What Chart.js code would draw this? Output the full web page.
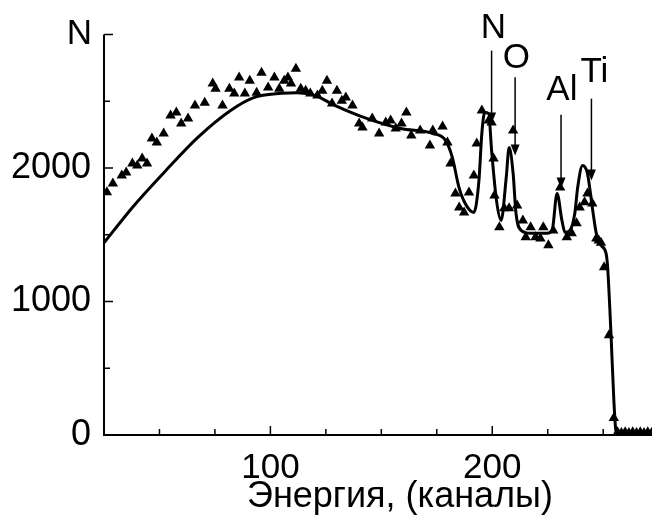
<!DOCTYPE html>
<html>
<head>
<meta charset="utf-8">
<script src="https://cdn.jsdelivr.net/npm/chart.js@4/dist/chart.umd.min.js"></script>
<style>
  html, body { margin: 0; padding: 0; background: #fff; }
  #wrap { width: 664px; height: 515px; }
</style>
</head>
<body>
<div id="wrap"><canvas id="chart"></canvas></div>
<script>
// measured spectrum (triangles): channel / counts
const measuredX = [26.3, 29, 33, 35, 37.8, 40, 42.2, 44.4, 46.6, 48.8, 51.9, 55, 57.6, 59.8, 62.9, 66, 70.4, 74, 75.3, 78.4,
  81.5, 83.7, 85.9, 88.5, 90.7, 93.8, 96, 99, 101.8, 104, 106.2, 107.9, 109.3, 111.5, 113.7, 115.9, 118, 121.2, 123.4, 125.5,
  127.8, 130, 132.2, 134, 137, 140, 141.5, 145.9, 149, 152, 154.2, 156.5, 159.1, 161.3, 163.5, 167.5, 171.9, 173.2, 177.6, 179.8,
  181.2, 183.4, 185.1, 187.3, 189.5, 191.7, 193, 195.3, 198.4, 199.7, 200.6, 201, 203.2, 205.4, 207.6, 209.4, 211.2, 213.8, 215.1, 217.3,
  219.5, 221.7, 223, 225.3, 227.5, 230.6, 233.6, 235.8, 238, 239.4, 241.6, 242.9, 245.1, 246.9, 248, 249, 250.4, 252.6, 254.8,
  256.5, 258.2, 259.9, 261.6, 263.3, 265, 266.7, 268.4, 270.1, 271.8];
const measuredY = [1818, 1885, 1945, 1967, 2034, 2020, 2072, 2034, 2221, 2191, 2259, 2393, 2416, 2334, 2371, 2468, 2490, 2633, 2595, 2468,
  2595, 2558, 2678, 2558, 2655, 2565, 2715, 2603, 2678, 2595, 2655, 2678, 2633, 2745, 2595, 2580, 2558, 2543, 2580, 2655,
  2483, 2580, 2505, 2528, 2468, 2334, 2304, 2371, 2259, 2341, 2356, 2296, 2334, 2416, 2244, 2281, 2169, 2281, 2311, 2191,
  2034, 1810, 1705, 1668, 1817, 1945, 2184, 2431, 2356, 2341, 2072, 1795, 1556, 1698, 1698, 2281, 1720, 1608, 1481, 1556,
  1481, 1473, 1556, 1421, 1533, 1855, 1481, 1511, 1586, 1705, 1743, 1810, 1735, 1473, 1458, 1440, 1257, 748, 127,
  20, 15, 20, 15, 20, 15, 20, 15, 20, 15];

// simulated spectrum (solid line)
const fitX = [25, 37.8, 52.8, 67.3, 81.9, 92.5, 105, 112, 120, 129, 143.7, 158.7, 173.2, 179, 182, 185, 187.8, 191.7, 194, 195.3,
  196.6, 198.4, 199.7, 201.9, 204, 206.3, 207.6, 209.4, 210.7, 213, 217.3, 224.8, 227, 229.2, 231.4, 232.8, 235, 237.2, 238.5, 240.7,
  242.9, 245.1, 246.9, 249, 251.3, 252, 253.5, 254.8, 255.7, 257, 264, 272];
const fitY = [1440, 1705, 1980, 2230, 2430, 2528, 2560, 2565, 2545, 2470, 2370, 2296, 2259, 2206, 2080, 1855, 1735, 1668, 1907, 2259,
  2416, 2408, 2132, 1758, 1608, 1930, 2154, 1960, 1660, 1533, 1511, 1511, 1533, 1810, 1608, 1518, 1533, 1660, 1855, 2020,
  1960, 1705, 1511, 1421, 1361, 1257, 763, 262, 37, 0, 0, 0];

// element markers: label, channel, arrow top / tip (counts), label centre (channel, counts)
const peakLabels = ['N', 'O', 'Al', 'Ti'];
const peakX = [199.7, 210.3, 231, 244.7];
const arrowTop = [2880, 2680, 2400, 2520];
const arrowTip = [2334, 2094, 1847, 1907];
const labelX = [200.5, 210.9, 231.4, 246];
const labelY = [3050, 2820, 2580, 2715];

const xMin = 25, xMax = 272;
const yMin = 0, yMax = 3000;
const xMinorTicks = [50, 75, 100, 125, 150, 175, 200, 225, 250];
const xMajorTicks = [100, 200];
const yMinorTicks = [500, 1000, 1500, 2000, 2500, 3000];
const yMajorTicks = [1000, 2000, 3000];
const yLabels = [0, 1000, 2000];
const xTitle = 'Энергия, (каналы)';

const FONT = "'Liberation Sans', Arial, sans-serif";

const decor = {
  id: 'decor',
  afterDatasetsDraw(chart) {
    const ctx = chart.ctx;
    const x = chart.scales.x, y = chart.scales.y;
    const area = chart.chartArea;
    ctx.save();
    ctx.strokeStyle = '#000';
    ctx.fillStyle = '#000';
    // axes
    ctx.lineWidth = 2;
    ctx.beginPath();
    ctx.moveTo(area.left, y.getPixelForValue(yMax));
    ctx.lineTo(area.left, area.bottom);
    ctx.lineTo(area.right, area.bottom);
    ctx.stroke();
    // ticks pointing inward
    ctx.lineWidth = 1.5;
    ctx.beginPath();
    xMinorTicks.forEach(v => {
      const px = x.getPixelForValue(v);
      const len = xMajorTicks.includes(v) ? 9 : 6;
      ctx.moveTo(px, area.bottom);
      ctx.lineTo(px, area.bottom - len);
    });
    yMinorTicks.forEach(v => {
      const py = y.getPixelForValue(v);
      const len = yMajorTicks.includes(v) ? 9 : 6;
      ctx.moveTo(area.left, py);
      ctx.lineTo(area.left + len, py);
    });
    ctx.stroke();
    // axis name N
    ctx.font = '35px ' + FONT;
    ctx.textAlign = 'right';
    ctx.textBaseline = 'middle';
    ctx.fillText('N', area.left - 12, y.getPixelForValue(yMax));
    // element arrows
    ctx.lineWidth = 1.5;
    ctx.textAlign = 'center';
    peakLabels.forEach((lab, i) => {
      const px = x.getPixelForValue(peakX[i]);
      const top = y.getPixelForValue(arrowTop[i]);
      const tip = y.getPixelForValue(arrowTip[i]);
      ctx.beginPath();
      ctx.moveTo(px, top);
      ctx.lineTo(px, tip - 8);
      ctx.stroke();
      ctx.beginPath();
      ctx.moveTo(px - 4.5, tip - 11);
      ctx.lineTo(px + 4.5, tip - 11);
      ctx.lineTo(px, tip);
      ctx.closePath();
      ctx.fill();
      ctx.fillText(lab, x.getPixelForValue(labelX[i]), y.getPixelForValue(labelY[i]));
    });
    // x axis title
    ctx.font = '36px ' + FONT;
    ctx.textBaseline = 'alphabetic';
    ctx.fillText(xTitle, (area.left + area.right) / 2 + 22, 507);
    ctx.restore();
  }
};

const fitData = fitX.map((v, i) => ({ x: v, y: fitY[i] }));
const measData = measuredX.map((v, i) => ({ x: v, y: measuredY[i] }));

new Chart(document.getElementById('chart'), {
  type: 'scatter',
  data: {
    datasets: [
      {
        data: fitData,
        showLine: true,
        borderColor: '#000',
        borderWidth: 3,
        pointRadius: 0,
        cubicInterpolationMode: 'monotone'
      },
      {
        data: measData,
        showLine: false,
        pointStyle: 'triangle',
        pointRadius: 6,
        backgroundColor: '#000',
        borderColor: '#000',
        borderWidth: 0
      }
    ]
  },
  options: {
    responsive: true,
    maintainAspectRatio: false,
    animation: false,
    events: [],
    layout: { padding: { top: 34, right: 0, left: 0, bottom: 0 } },
    plugins: { legend: { display: false }, tooltip: { enabled: false } },
    scales: {
      x: {
        type: 'linear',
        min: xMin,
        max: xMax,
        grid: { display: false, drawTicks: false },
        border: { display: false },
        ticks: {
          stepSize: 25,
          autoSkip: false,
          maxRotation: 0,
          padding: 12,
          color: '#000',
          font: { size: 35, family: FONT },
          callback: v => (xMajorTicks.includes(v) ? String(v) : '')
        },
        afterFit: s => { s.height = 80; }
      },
      y: {
        type: 'linear',
        min: yMin,
        max: yMax,
        grid: { display: false, drawTicks: false },
        border: { display: false },
        ticks: {
          stepSize: 500,
          padding: 13,
          color: '#000',
          font: { size: 36, family: FONT },
          callback: v => (yLabels.includes(v) ? String(v) : '')
        },
        afterFit: s => { s.width = 104; }
      }
    }
  },
  plugins: [decor]
});
</script>
</body>
</html>
